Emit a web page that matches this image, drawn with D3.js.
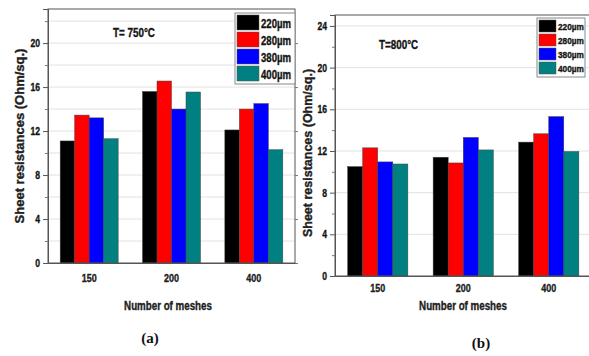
<!DOCTYPE html>
<html>
<head>
<meta charset="utf-8">
<script src="https://cdn.jsdelivr.net/npm/d3@7"></script>
<style>
  html, body { margin: 0; padding: 0; background: #fff; }
  svg { display: block; }
  text.heavy { stroke: #1a1a1a; stroke-width: 0.35px; paint-order: fill; }
</style>
</head>
<body>
<svg id="chart" width="589" height="356"></svg>
<script>
// categories
const meshes = ["150", "200", "400"]
const sizes = ["220µm", "280µm", "380µm", "400µm"]

// (a) T = 750 °C, one array per aperture size, in mesh order
const a220 = [11.1, 15.6, 12.1]
const a280 = [13.45, 16.55, 14.0]
const a380 = [13.2, 14.0, 14.5]
const a400 = [11.3, 15.55, 10.3]

// (b) T = 800 °C
const b220 = [10.5, 11.4, 12.85]
const b280 = [12.3, 10.85, 13.65]
const b380 = [10.95, 13.3, 15.3]
const b400 = [10.75, 12.1, 11.95]

const yTicksA = [0, 4, 8, 12, 16, 20]
const yTicksB = [0, 4, 8, 12, 16, 20, 24]

const colors = ["#000000", "#ff0000", "#0000ff", "#008080"]
const SANS = "'Liberation Sans', Arial, sans-serif"

const svg = d3.select("#chart")

// the figure uses a condensed bold face; squeeze Liberation Sans to match
function squeeze(sel, k) {
  sel.attr("font-family", SANS).attr("font-weight", "bold").classed("heavy", true).each(function () {
    const w = this.getComputedTextLength()
    d3.select(this).attr("textLength", w * k).attr("lengthAdjust", "spacingAndGlyphs")
  })
}

function drawPanel(p) {
  const g = svg.append("g")
  const x = d3.scaleBand().domain(meshes).range([p.left, p.right]).padding(0)
  const xs = d3.scaleBand().domain(sizes).range([0, x.bandwidth()]).paddingInner(0).paddingOuter(0.84)
  const y = d3.scaleLinear().domain([0, p.ymax]).range([p.bottom, p.top])

  // grid
  g.append("g").selectAll("line").data(p.grid).join("line")
    .attr("x1", p.left).attr("x2", p.right)
    .attr("y1", d => y(d)).attr("y2", d => y(d))
    .attr("stroke", "#e2e2e2").attr("stroke-width", 1)

  // bars
  const rows = meshes.map((m, i) => sizes.map((s, j) => ({ mesh: m, size: s, value: p.series[j][i], c: colors[j] })))
  g.append("g").selectAll("g").data(rows).join("g")
    .attr("transform", d => `translate(${x(d[0].mesh)},0)`)
    .selectAll("rect").data(d => d).join("rect")
    .attr("x", d => xs(d.size))
    .attr("width", xs.bandwidth())
    .attr("y", d => y(d.value))
    .attr("height", d => p.bottom - y(d.value))
    .attr("fill", d => d.c)
    .attr("stroke", "#444").attr("stroke-width", 0.5)

  // frame
  g.append("rect")
    .attr("x", p.left).attr("y", p.top)
    .attr("width", p.right - p.left).attr("height", p.bottom - p.top)
    .attr("fill", "none").attr("stroke", "#555").attr("stroke-width", 1)

  // left axis, major + minor
  const yAxis = g.append("g").attr("transform", `translate(${p.left},0)`)
    .call(d3.axisLeft(y).tickValues(p.ticks).tickSize(5).tickPadding(3))
  yAxis.select(".domain").attr("stroke", "#555")
  yAxis.selectAll(".tick line").attr("stroke", "#555")
  yAxis.selectAll("text").attr("font-size", 11).attr("fill", "#111")
    .call(squeeze, 0.78)
  g.append("g").attr("transform", `translate(${p.left},0)`)
    .call(d3.axisLeft(y).tickValues(p.ticks.map(t => t + 2).filter(t => t < p.ymax)).tickSize(3).tickFormat(""))
    .call(a => a.select(".domain").remove())
    .selectAll("line").attr("stroke", "#777")

  // right side ticks
  g.append("g").attr("transform", `translate(${p.right},0)`)
    .call(d3.axisRight(y).tickValues(p.ticks).tickSize(3).tickFormat(""))
    .call(a => a.select(".domain").remove())
    .selectAll("line").attr("stroke", "#777")

  // bottom axis labels
  const xAxis = g.append("g").attr("transform", `translate(0,${p.bottom})`)
    .call(d3.axisBottom(x).tickSize(0).tickPadding(p.xpad))
  xAxis.select(".domain").attr("stroke", "#555")
  xAxis.selectAll("text").attr("font-size", 11.5).attr("fill", "#222")
    .call(squeeze, 0.78)

  g.append("text")
    .attr("x", p.xTitleX).attr("y", p.xTitleY)
    .attr("text-anchor", "middle").attr("font-size", 12.5).attr("fill", "#222")
    .text("Number of meshes")
    .call(squeeze, 0.78)

  g.append("text")
    .attr("transform", `translate(${p.yTitleX},${p.yTitleY}) rotate(-90)`)
    .attr("text-anchor", "middle").attr("font-size", p.yTitleSize).attr("fill", "#222")
    .attr("font-family", SANS).attr("font-weight", "bold").classed("heavy", true)
    .text("Sheet resistances (Ohm/sq.)")

  g.append("text")
    .attr("x", p.tempX).attr("y", p.tempY)
    .attr("font-size", 12).attr("fill", "#111")
    .text(p.temp)
    .call(squeeze, 0.82)

  // legend
  const lg = g.append("g").attr("transform", `translate(${p.legX},${p.legY})`)
  lg.append("rect").attr("width", p.legW).attr("height", p.legRow * sizes.length + 3)
    .attr("fill", "#fff").attr("stroke", "#888")
  const items = lg.selectAll("g").data(sizes).join("g")
    .attr("transform", (d, i) => `translate(2,${2 + i * p.legRow})`)
  items.append("rect").attr("width", p.swW).attr("height", p.legRow - 2)
    .attr("fill", (d, i) => colors[i]).attr("stroke", "#555").attr("stroke-width", 0.5)
  items.append("text")
    .attr("x", p.swW + 2).attr("y", p.legRow / 2)
    .attr("dy", "0.35em").attr("font-size", p.legFont).attr("fill", "#111")
    .text(d => d)
    .call(squeeze, p.legSqueeze)

  svg.append("text")
    .attr("x", p.capX).attr("y", p.capY)
    .attr("text-anchor", "middle")
    .attr("font-family", "'Liberation Serif', 'Times New Roman', serif")
    .attr("font-weight", "bold").attr("font-size", 15).attr("fill", "#111")
    .text(p.caption)
}

drawPanel({
  series: [a220, a280, a380, a400], ticks: yTicksA, grid: [2, 4, 6, 8, 10, 12, 14, 16, 18, 20, 22],
  left: 48, right: 295, top: 9, bottom: 263, ymax: 23.1, xpad: 11,
  xTitleX: 168, xTitleY: 310, yTitleX: 24, yTitleY: 136, yTitleSize: 13,
  temp: "T= 750°C", tempX: 113, tempY: 37,
  legX: 235, legY: 13, legW: 60, legRow: 17, swW: 22, legFont: 12, legSqueeze: 0.8,
  caption: "(a)", capX: 150, capY: 343
})

drawPanel({
  series: [b220, b280, b380, b400], ticks: yTicksB, grid: [4, 8, 12, 16, 20, 24],
  left: 335, right: 591.5, top: 15, bottom: 276, ymax: 25.05, xpad: 8,
  xTitleX: 463, xTitleY: 310, yTitleX: 312, yTitleY: 153, yTitleSize: 12.5,
  temp: "T=800°C", tempX: 379, tempY: 49,
  legX: 537, legY: 18, legW: 48, legRow: 14, swW: 17, legFont: 9.5, legSqueeze: 0.87,
  caption: "(b)", capX: 481, capY: 348
})
</script>
</body>
</html>
